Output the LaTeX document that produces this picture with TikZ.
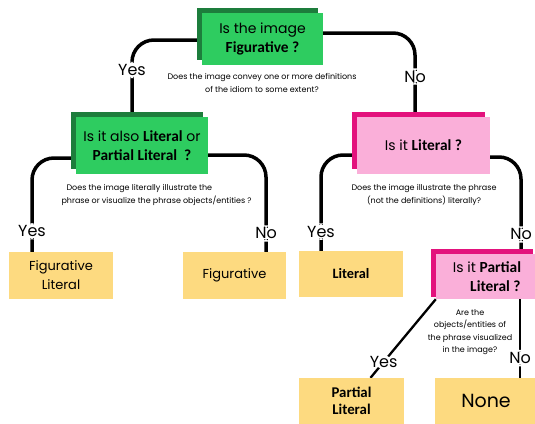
\documentclass[tikz,border=0pt]{standalone}
\usepackage{fontspec}
\setmainfont{Poppins}
\newfontfamily\kwfont[Scale=1.1]{Carlito}
\usetikzlibrary{positioning, shadows, backgrounds}

\definecolor{qgreen}{HTML}{2ECC60}
\definecolor{qdarkgreen}{HTML}{1D7D3C}
\definecolor{qpink}{HTML}{FAAFD9}
\definecolor{qmagenta}{HTML}{E3127D}
\definecolor{leafyellow}{HTML}{FDDA80}

\newcommand{\kw}[1]{{\kwfont\bfseries #1}}

\begin{document}
\begin{tikzpicture}[x=1pt, y=-1pt,
      gnode/.style = {
          fill=qgreen,
          general shadow={fill=qdarkgreen, shadow xshift=-5pt, shadow yshift=5pt},
          align=center, inner sep=0pt,
          font=\fontsize{14}{19}\selectfont,
        },
      pnode/.style = {
          fill=qpink,
          general shadow={fill=qmagenta, shadow xshift=-5pt, shadow yshift=5pt},
          align=center, inner sep=0pt,
          font=\fontsize{14}{19}\selectfont,
        },
      leaf/.style = {
          fill=leafyellow,
          align=center, inner sep=0pt,
          font=\fontsize{13}{19}\selectfont,
        },
      note/.style = {align=center, font=\fontsize{8}{12.5}\selectfont},
      ans/.style = {fill=white, inner sep=2.5pt, font=\fontsize{16}{16}\selectfont},
      conn/.style = {line width=3.5pt, rounded corners=22pt},
    ]

    \useasboundingbox (0,0) rectangle (535,423);

    % questions
    \node[gnode, minimum width=121pt, minimum height=52pt] (fig) at (262.5,39)
      {Is the image\\ \kw{Figurative ?}};
    \node[gnode, minimum width=132pt, minimum height=57pt] (also) at (142,145.5)
      {Is it also \kw{Literal} or\\ \kw{Partial Literal \ ?}};
    \node[pnode, minimum width=133pt, minimum height=57pt] (lit) at (423.5,145.5)
      {Is it \kw{Literal ?}};
    \node[pnode, minimum width=102pt, minimum height=45pt,
          general shadow={fill=qmagenta, shadow xshift=-5pt, shadow yshift=2pt}] (partial) at (487,276.5)
      {Is it \kw{Partial}\\ \hspace*{1.2em}\kw{Literal ?}};

    % answers
    \node[leaf, minimum width=104pt, minimum height=47pt] (figlit) at (61,275.5)
      {Figurative\\Literal};
    \node[leaf, minimum width=103pt, minimum height=47pt] (figonly) at (234.5,275.5)
      {Figurative};
    \node[leaf, minimum width=104pt, minimum height=46pt] (literal) at (351,274)
      {\kw{Literal}};
    \node[leaf, minimum width=105pt, minimum height=46pt, font=\fontsize{13.5}{17}\selectfont] (partlit) at (351.5,401)
      {\kw{Partial}\\ \kw{Literal}};
    \node[leaf, minimum width=102pt, minimum height=46pt, font=\fontsize{19}{19}\selectfont] (none) at (486,401)
      {None};

    % hints
    \node[note] (hfig) at (262,83)
      {Does the image convey one or more definitions\\of the idiom to some extent?};
    \node[note, align=left, anchor=west] (halso) at (58,195)
      {\hspace*{5pt}Does the image literally illustrate the\\phrase or visualize the phrase objects/entities ?};
    \node[note] (hlit) at (424,195)
      {Does the image illustrate the phrase\\(not the definitions) literally?};
    \node[note] (hpartial) at (470,332)
      {Are the\\objects/entities of\\the phrase visualized\\in the image?};

    \begin{scope}[on background layer]
      \draw[conn]([yshift=-1pt]fig.center) -| node[ans, pos=.695] {Yes} ([xshift=-10pt]also.north);
      \draw[conn]([yshift=6pt]fig.center) -| node[ans, pos=.76] {No} ([xshift=-8.5pt]lit.north);

      \draw[conn]([yshift=-12.5pt]also.center) -| node[ans, pos=.89] {Yes} ([xshift=-29pt]figlit.north);
      \draw[conn]([yshift=-9.5pt]also.center) -| node[ans, pos=.905] {No} ([xshift=31.5pt]figonly.north);

      \draw[conn]([yshift=-9.5pt]lit.center) -| node[ans, pos=.90] {Yes} ([xshift=-30pt]literal.north);
      \draw[conn]([yshift=-11.5pt]lit.center) -| node[ans, pos=.90] {No} ([xshift=34pt]partial.north);

      \draw[conn, line width=2.3pt](partial.south west) -- node[ans, pos=.8] {Yes} ([xshift=19pt]partlit.north);
      \draw[conn, line width=2.5pt]([xshift=33pt]partial.south) -- node[ans, pos=.75] {No} ([xshift=34pt]none.north);
    \end{scope}

  \end{tikzpicture}
\end{document}
